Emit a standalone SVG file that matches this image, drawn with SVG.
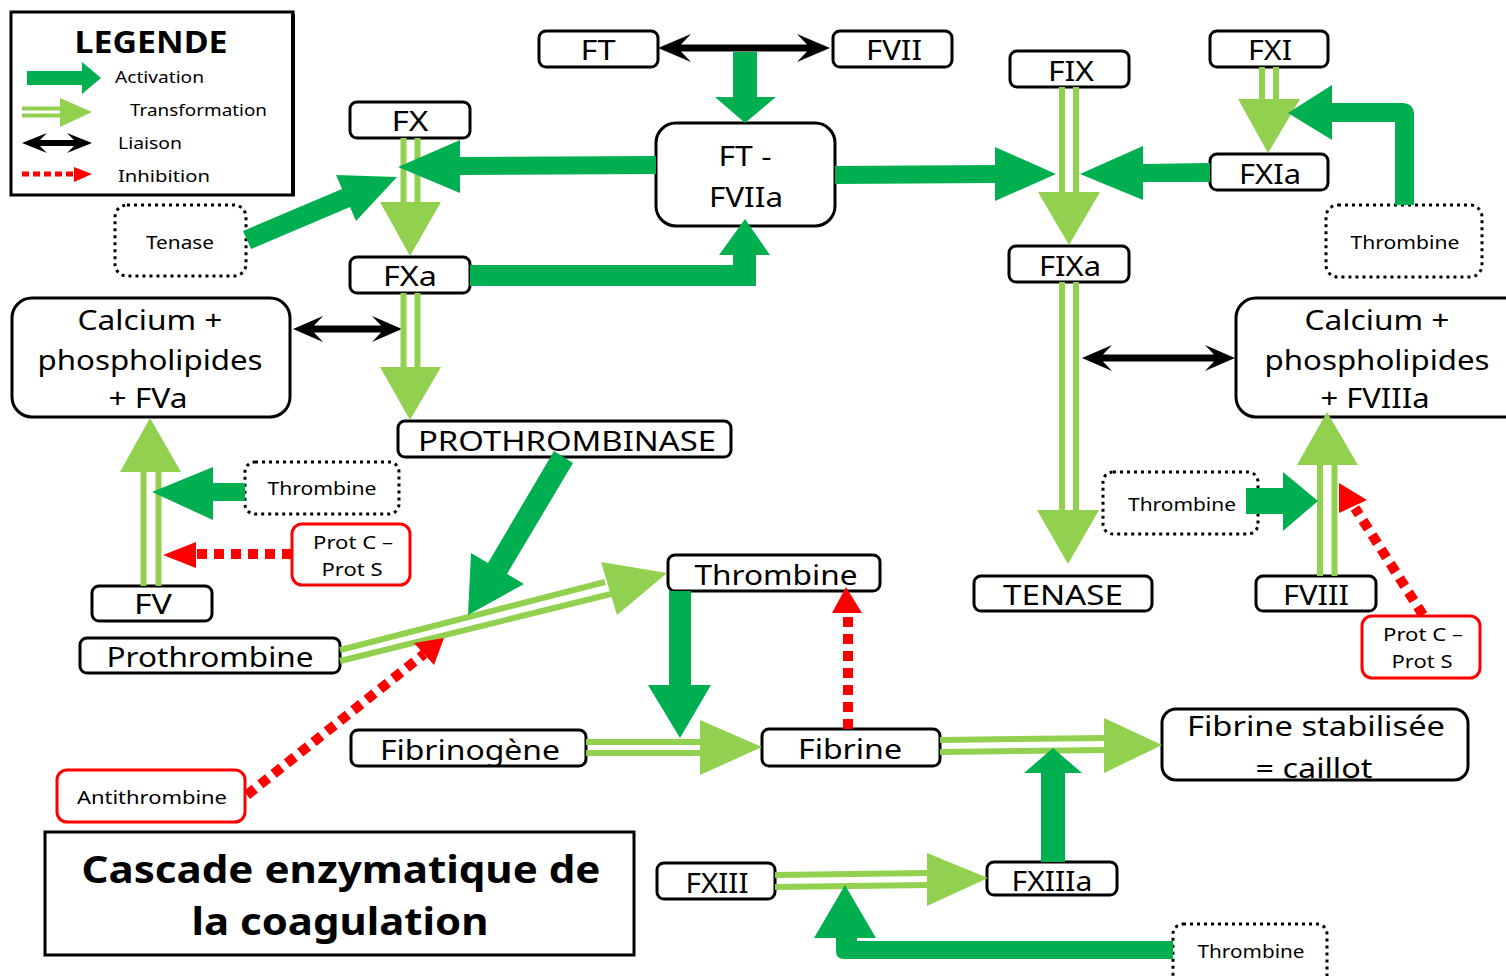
<svg xmlns="http://www.w3.org/2000/svg" width="1506" height="976" viewBox="0 0 1506 976">
<style>
text{font-family:"Noto Sans","DejaVu Sans",sans-serif;fill:#000}
.n{fill:#fff;stroke:#000;stroke-width:3}
.d{fill:#fff;stroke:#000;stroke-width:3;stroke-dasharray:3 4}
.r{fill:#fff;stroke:#f00;stroke-width:3}
.t27{font-size:27px;text-anchor:middle}
.t28{font-size:28px;text-anchor:middle}
.t18{font-size:18px;text-anchor:middle}
.act{fill:#00B050}
.tr{stroke:#92D050;stroke-width:6;fill:none}
.trh{fill:#92D050}
.lia{fill:#000}
.inh{stroke:#f00;stroke-width:10;stroke-dasharray:10 7;fill:none}
.inhh{fill:#f00}
</style>
<rect width="1506" height="976" fill="#fff"/>

<g id="legend">
<rect x="11" y="12" width="282" height="183" class="n"/>
<line x1="293" y1="14" x2="293" y2="196" stroke="#000" stroke-width="4"/>
<text x="151" y="53" font-size="30" font-weight="bold" text-anchor="middle" textLength="153" lengthAdjust="spacingAndGlyphs">LEGENDE</text>
<polygon class="act" points="27,71 82,71 82,62 101,78 82,94 82,85 27,85"/>
<text x="115" y="83" font-size="17" textLength="89" lengthAdjust="spacingAndGlyphs">Activation</text>
<line x1="22" y1="108.5" x2="62" y2="108.5" stroke="#92D050" stroke-width="4"/>
<line x1="22" y1="115.5" x2="62" y2="115.5" stroke="#92D050" stroke-width="4"/>
<polygon class="trh" points="60,98 92,112 60,127"/>
<text x="130" y="116" font-size="17" textLength="137" lengthAdjust="spacingAndGlyphs">Transformation</text>
<polygon class="lia" points="22,143 47,133 40,140 74,140 67,133 92,143 67,153 74,146 40,146 47,153"/>
<text x="118" y="149" font-size="17" textLength="64" lengthAdjust="spacingAndGlyphs">Liaison</text>
<line x1="22" y1="174" x2="74" y2="174" stroke="#f00" stroke-width="5" stroke-dasharray="7 4"/>
<polygon class="inhh" points="74,167 92,174 74,182"/>
<text x="118" y="182" font-size="17" textLength="92" lengthAdjust="spacingAndGlyphs">Inhibition</text>
</g>

<g id="nodes">
<g id="ft"><rect x="539" y="31" width="119" height="36" rx="7" class="n"/><text x="598" y="60" class="t27" textLength="35" lengthAdjust="spacingAndGlyphs">FT</text></g>
<g id="fvii"><rect x="833" y="31" width="119" height="36" rx="7" class="n"/><text x="894" y="60" class="t27" textLength="56" lengthAdjust="spacingAndGlyphs">FVII</text></g>
<g id="ft-fviia"><rect x="656" y="123" width="179" height="103" rx="20" class="n"/><text x="745" y="166" class="t27" textLength="53" lengthAdjust="spacingAndGlyphs">FT -</text><text x="746" y="207" class="t27" textLength="74" lengthAdjust="spacingAndGlyphs">FVIIa</text></g>
<g id="fx"><rect x="350" y="102" width="120" height="36" rx="7" class="n"/><text x="410" y="131" class="t27" textLength="37" lengthAdjust="spacingAndGlyphs">FX</text></g>
<g id="fxa"><rect x="350" y="257" width="120" height="36" rx="7" class="n"/><text x="410" y="286" class="t27" textLength="54" lengthAdjust="spacingAndGlyphs">FXa</text></g>
<g id="fix"><rect x="1010" y="51" width="119" height="36" rx="7" class="n"/><text x="1071" y="81" class="t27" textLength="46" lengthAdjust="spacingAndGlyphs">FIX</text></g>
<g id="fixa"><rect x="1009" y="246" width="120" height="36" rx="7" class="n"/><text x="1070" y="276" class="t27" textLength="62" lengthAdjust="spacingAndGlyphs">FIXa</text></g>
<g id="fxi"><rect x="1210" y="31" width="118" height="36" rx="7" class="n"/><text x="1270" y="60" class="t27" textLength="44" lengthAdjust="spacingAndGlyphs">FXI</text></g>
<g id="fxia"><rect x="1210" y="154" width="118" height="36" rx="7" class="n"/><text x="1270" y="184" class="t27" textLength="62" lengthAdjust="spacingAndGlyphs">FXIa</text></g>
<g id="tenase-src"><rect x="115" y="205" width="131" height="71" rx="12" class="d"/><text x="180" y="249" class="t18" textLength="68" lengthAdjust="spacingAndGlyphs">Tenase</text></g>
<g id="thrombine-tr"><rect x="1326" y="205" width="156" height="72" rx="12" class="d"/><text x="1405" y="249" class="t18" textLength="109" lengthAdjust="spacingAndGlyphs">Thrombine</text></g>
<g id="calcium-fva"><rect x="12" y="298" width="278" height="119" rx="20" class="n"/><text x="150" y="330" class="t28" textLength="145" lengthAdjust="spacingAndGlyphs">Calcium +</text><text x="150" y="370" class="t28" textLength="225" lengthAdjust="spacingAndGlyphs">phospholipides</text><text x="148" y="408" class="t28" textLength="79" lengthAdjust="spacingAndGlyphs">+ FVa</text></g>
<g id="calcium-fviiia"><rect x="1236" y="298" width="290" height="119" rx="20" class="n"/><text x="1377" y="330" class="t28" textLength="145" lengthAdjust="spacingAndGlyphs">Calcium +</text><text x="1377" y="370" class="t28" textLength="225" lengthAdjust="spacingAndGlyphs">phospholipides</text><text x="1375" y="408" class="t28" textLength="109" lengthAdjust="spacingAndGlyphs">+ FVIIIa</text></g>
<g id="prothrombinase"><rect x="398" y="421" width="333" height="36" rx="7" class="n"/><text x="567" y="451" class="t27" textLength="298" lengthAdjust="spacingAndGlyphs">PROTHROMBINASE</text></g>
<g id="thrombine-l"><rect x="245" y="462" width="154" height="52" rx="10" class="d"/><text x="322" y="495" class="t18" textLength="109" lengthAdjust="spacingAndGlyphs">Thrombine</text></g>
<g id="protc-l"><rect x="292" y="524" width="118" height="61" rx="10" class="r"/><text x="353" y="549" class="t18" textLength="80" lengthAdjust="spacingAndGlyphs">Prot C –</text><text x="352" y="576" class="t18" textLength="61" lengthAdjust="spacingAndGlyphs">Prot S</text></g>
<g id="fv"><rect x="92" y="586" width="120" height="35" rx="7" class="n"/><text x="153" y="614" class="t27" textLength="38" lengthAdjust="spacingAndGlyphs">FV</text></g>
<g id="prothrombine"><rect x="80" y="638" width="260" height="35" rx="7" class="n"/><text x="210" y="667" class="t27" textLength="207" lengthAdjust="spacingAndGlyphs">Prothrombine</text></g>
<g id="thrombine"><rect x="668" y="555" width="212" height="36" rx="7" class="n"/><text x="776" y="585" class="t27" textLength="163" lengthAdjust="spacingAndGlyphs">Thrombine</text></g>
<g id="thrombine-r"><rect x="1103" y="472" width="155" height="62" rx="10" class="d"/><text x="1182" y="511" class="t18" textLength="108" lengthAdjust="spacingAndGlyphs">Thrombine</text></g>
<g id="tenase"><rect x="974" y="576" width="178" height="35" rx="7" class="n"/><text x="1063" y="605" class="t27" textLength="120" lengthAdjust="spacingAndGlyphs">TENASE</text></g>
<g id="fviii"><rect x="1256" y="576" width="120" height="35" rx="7" class="n"/><text x="1316" y="605" class="t27" textLength="66" lengthAdjust="spacingAndGlyphs">FVIII</text></g>
<g id="protc-r"><rect x="1362" y="616" width="118" height="62" rx="10" class="r"/><text x="1423" y="641" class="t18" textLength="80" lengthAdjust="spacingAndGlyphs">Prot C –</text><text x="1422" y="668" class="t18" textLength="61" lengthAdjust="spacingAndGlyphs">Prot S</text></g>
<g id="fibrinogene"><rect x="351" y="730" width="235" height="36" rx="7" class="n"/><text x="470" y="760" class="t27" textLength="180" lengthAdjust="spacingAndGlyphs">Fibrinogène</text></g>
<g id="fibrine"><rect x="762" y="729" width="178" height="37" rx="7" class="n"/><text x="850" y="759" class="t27" textLength="104" lengthAdjust="spacingAndGlyphs">Fibrine</text></g>
<g id="caillot"><rect x="1162" y="709" width="306" height="71" rx="14" class="n"/><text x="1316" y="736" class="t28" textLength="258" lengthAdjust="spacingAndGlyphs">Fibrine stabilisée</text><text x="1314" y="778" class="t28" textLength="117" lengthAdjust="spacingAndGlyphs">= caillot</text></g>
<g id="antithrombine"><rect x="57" y="770" width="188" height="52" rx="10" class="r"/><text x="152" y="804" class="t18" textLength="150" lengthAdjust="spacingAndGlyphs">Antithrombine</text></g>
<g id="title"><rect x="45" y="832" width="589" height="123" class="n"/><text x="341" y="883" font-size="37" font-weight="bold" text-anchor="middle" textLength="519" lengthAdjust="spacingAndGlyphs">Cascade enzymatique de</text><text x="340" y="935" font-size="37" font-weight="bold" text-anchor="middle" textLength="297" lengthAdjust="spacingAndGlyphs">la coagulation</text></g>
<g id="fxiii"><rect x="657" y="863" width="118" height="36" rx="7" class="n"/><text x="717" y="893" class="t27" textLength="63" lengthAdjust="spacingAndGlyphs">FXIII</text></g>
<g id="fxiiia"><rect x="987" y="862" width="130" height="33" rx="7" class="n"/><text x="1052" y="891" class="t27" textLength="81" lengthAdjust="spacingAndGlyphs">FXIIIa</text></g>
<g id="thrombine-b"><rect x="1173" y="924" width="154" height="62" rx="10" class="d"/><text x="1251" y="958" class="t18" textLength="107" lengthAdjust="spacingAndGlyphs">Thrombine</text></g>
</g>

<g id="connectors">
<!-- liaisons -->
<polygon class="lia" points="658,48 691,34 681,44.5 807,44.5 797,34 830,48 797,62 807,51.5 681,51.5 691,62"/>
<polygon class="lia" points="293,329 323,316 314,325.5 381,325.5 372,316 402,329 372,342 381,332.5 314,332.5 323,342"/>
<polygon class="lia" points="1082,358 1112,345 1103,354.5 1214,354.5 1205,345 1235,358 1205,371 1214,361.5 1103,361.5 1112,371"/>

<!-- transformations -->
<line class="tr" x1="403.5" y1="138" x2="403.5" y2="204"/><line class="tr" x1="417.5" y1="138" x2="417.5" y2="204"/>
<polygon class="trh" points="380,202 441,202 410,256"/>
<line class="tr" x1="403.5" y1="293" x2="403.5" y2="369"/><line class="tr" x1="417.5" y1="293" x2="417.5" y2="369"/>
<polygon class="trh" points="380,367 441,367 410,420"/>
<line class="tr" x1="1062" y1="87" x2="1062" y2="194"/><line class="tr" x1="1076" y1="87" x2="1076" y2="194"/>
<polygon class="trh" points="1038,192 1100,192 1069,245"/>
<line class="tr" x1="1262" y1="67" x2="1262" y2="101"/><line class="tr" x1="1276" y1="67" x2="1276" y2="101"/>
<polygon class="trh" points="1238,99 1300,99 1268,153"/>
<line class="tr" x1="1062" y1="282" x2="1062" y2="512"/><line class="tr" x1="1076" y1="282" x2="1076" y2="512"/>
<polygon class="trh" points="1037,510 1099,510 1068,564"/>
<line class="tr" x1="143.5" y1="586" x2="143.5" y2="470"/><line class="tr" x1="158.5" y1="586" x2="158.5" y2="470"/>
<polygon class="trh" points="120,472 181,472 150,418"/>
<line class="tr" x1="1320" y1="576" x2="1320" y2="463"/><line class="tr" x1="1334.5" y1="576" x2="1334.5" y2="463"/>
<polygon class="trh" points="1297,465 1358,465 1327,412"/>
<line class="tr" x1="340" y1="650" x2="605" y2="582"/><line class="tr" x1="340" y1="661" x2="611" y2="594"/>
<polygon class="trh" points="601,562 617,615 667,573"/>
<line class="tr" x1="586" y1="742" x2="702" y2="742"/><line class="tr" x1="586" y1="753" x2="702" y2="753"/>
<polygon class="trh" points="700,720 700,775 762,747"/>
<line class="tr" x1="940" y1="740" x2="1106" y2="738"/><line class="tr" x1="940" y1="752" x2="1106" y2="750"/>
<polygon class="trh" points="1104,718 1104,773 1162,745"/>
<line class="tr" x1="775" y1="875" x2="929" y2="873"/><line class="tr" x1="775" y1="887" x2="929" y2="885"/>
<polygon class="trh" points="927,853 927,906 988,878"/>

<!-- activations -->
<polygon class="act" points="733,52 757,52 757,97 776,97 745,123 715,97 733,97"/>
<polygon class="act" points="656,156 460,157 460,140 398,167 460,193 460,175 656,174"/>
<polygon class="act" points="243,231 342,189 336,175 397,177 356,221 350,207 251,249"/>
<polygon class="act" points="470,265 733,265 733,255 719,255 745,219 770,255 756,255 756,286 470,286"/>
<polygon class="act" points="835,166 995,165 995,147 1056,174 995,201 995,183 835,184"/>
<polygon class="act" points="1210,163 1143,164 1143,146 1080,174 1143,200 1143,182 1210,182"/>
<path class="act" d="M1395,205 L1395,122 L1332,122 L1332,140 L1288,113 L1332,85 L1332,103 L1402,103 Q1414,103 1414,115 L1414,205 Z"/>
<polygon class="act" points="245,483 213,483 213,467 152,492 213,520 213,501 245,501"/>
<polygon class="act" points="554,451 488,563 471,553 468,615 524,584 507,574 573,463"/>
<polygon class="act" points="669,591 691,591 691,685 711,685 680,738 648,685 669,685"/>
<polygon class="act" points="1246,488 1283,488 1283,472 1318,501 1283,531 1283,514 1246,514"/>
<polygon class="act" points="1041,862 1041,773 1024,773 1053,748 1082,773 1065,773 1065,862"/>
<path class="act" d="M1173,941 L857,941 L857,938 L876,938 L845,885 L814,938 L836,938 L836,951 Q836,959 844,959 L1173,959 Z"/>

<!-- inhibitions -->
<line class="inh" x1="292" y1="554" x2="196" y2="554"/>
<polygon class="inhh" points="196,542 196,568 163,555"/>
<line class="inh" x1="1423" y1="615" x2="1355" y2="508"/>
<polygon class="inhh" points="1339,483 1339,513 1367,500"/>
<line class="inh" x1="247" y1="795" x2="424" y2="654"/>
<polygon class="inhh" points="414,643 434,665 444,638"/>
<line class="inh" x1="848" y1="729" x2="848" y2="612"/>
<polygon class="inhh" points="832,613 862,613 846,587"/>
</g>
</svg>
